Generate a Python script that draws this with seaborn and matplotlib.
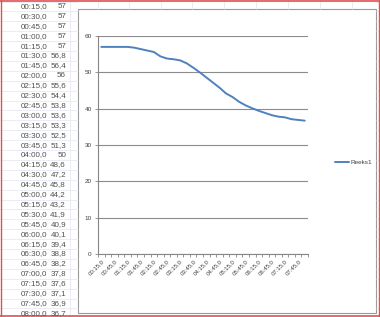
import numpy as np
import pandas as pd
import matplotlib
matplotlib.use("Agg")
import matplotlib.pyplot as plt
from matplotlib.patches import Rectangle
from matplotlib.lines import Line2D
import seaborn as sns

times = ["00:15,0", "00:30,0", "00:45,0", "01:00,0", "01:15,0", "01:30,0", "01:45,0", "02:00,0",
         "02:15,0", "02:30,0", "02:45,0", "03:00,0", "03:15,0", "03:30,0", "03:45,0", "04:00,0",
         "04:15,0", "04:30,0", "04:45,0", "05:00,0", "05:15,0", "05:30,0", "05:45,0", "06:00,0",
         "06:15,0", "06:30,0", "06:45,0", "07:00,0", "07:15,0", "07:30,0", "07:45,0", "08:00,0"]
values = [57, 57, 57, 57, 57, 56.8, 56.4, 56, 55.6, 54.4, 53.8, 53.6, 53.3, 52.5, 51.3, 50,
          48.6, 47.2, 45.8, 44.2, 43.2, 41.9, 40.9, 40.1, 39.4, 38.8, 38.2, 37.8, 37.6, 37.1, 36.9, 36.7]
yticks = [0, 10, 20, 30, 40, 50, 60]
series_name = "Reeks1"

sns.set_theme(style="white")
plt.rcParams['font.family'] = ['Liberation Sans', 'DejaVu Sans']

W, H = 380, 317
fig = plt.figure(figsize=(W / 100, H / 100), dpi=100)
fig.patch.set_facecolor("white")

def fx(px):
    return px / W

def fy(py):
    return 1 - py / H

grid_col = "#E2E6EE"
# spreadsheet grid lines
row_h = 9.9
for i in range(33):
    yy = 1.5 + i * row_h
    fig.add_artist(Line2D([fx(0), fx(78)], [fy(yy), fy(yy)], color=grid_col, lw=0.5))
    fig.add_artist(Line2D([fx(376), fx(380)], [fy(yy), fy(yy)], color=grid_col, lw=0.5))
for xx in [70]:
    fig.add_artist(Line2D([fx(xx), fx(xx)], [fy(0), fy(317)], color=grid_col, lw=0.5))
for xx in [98, 129, 161, 192, 224, 256, 288, 320, 352]:
    fig.add_artist(Line2D([fx(xx), fx(xx)], [fy(0), fy(9)], color=grid_col, lw=0.5))

# table text
for i, (t, v) in enumerate(zip(times, values)):
    yy = 6.5 + i * row_h
    fig.text(fx(47.5), fy(yy), t, ha="right", va="center", fontsize=5.8, color="#505050")
    vs = (f"{v:g}").replace(".", ",")
    fig.text(fx(66), fy(yy), vs, ha="right", va="center", fontsize=5.8, color="#505050")

# red borders of the screenshot
fig.add_artist(Line2D([0, 1], [fy(0.5), fy(0.5)], color="#E05050", lw=1.2))
fig.add_artist(Line2D([0, 1], [fy(316.3), fy(316.3)], color="#E05050", lw=1.2))
fig.add_artist(Line2D([fx(0.5), fx(0.5)], [0, 1], color="#E05050", lw=1.0))
fig.add_artist(Line2D([fx(378.5), fx(378.5)], [0, 1], color="#E05050", lw=1.0))

# chart box
fig.add_artist(Rectangle((fx(78), fy(313)), fx(376) - fx(78), fy(9) - fy(313),
                         facecolor="white", edgecolor="#9A9A9A", lw=0.8, zorder=1))

ax = fig.add_axes([fx(98), fy(254), fx(308) - fx(98), fy(36) - fy(254)])
ax.set_zorder(2)
ax.patch.set_alpha(0)

df = pd.DataFrame({"pos": np.arange(len(times)), "value": values, "serie": series_name})
sns.lineplot(data=df, x="pos", y="value", ax=ax, color="#4F81BD", lw=1.4, legend=False)

ax.set_xlim(-0.5, len(times) - 0.5)
ax.set_ylim(0, 60)
ax.set_yticks(yticks)
ax.set_yticklabels([str(v) for v in yticks], fontsize=4.6, color="#404040")
ax.yaxis.grid(True, color="#8C8C8C", lw=0.8)
ax.set_axisbelow(True)
ax.set_xticks(np.arange(len(times))[::2])
ax.set_xticklabels(times[::2], rotation=45, ha="right", rotation_mode="anchor",
                   fontsize=4.3, color="#404040")
ax.set_xticks(np.arange(len(times) + 1) - 0.5, minor=True)
ax.tick_params(axis="x", which="major", length=0, pad=3)
ax.tick_params(axis="x", which="minor", length=2.5, width=0.6, color="#868686", direction="out", bottom=True)
ax.tick_params(axis="y", length=2.5, width=0.6, color="#868686", direction="out", left=True, pad=2)
ax.set_xlabel("")
ax.set_ylabel("")
for s in ["top", "right"]:
    ax.spines[s].set_visible(False)
for s in ["left", "bottom"]:
    ax.spines[s].set_color("#868686")
    ax.spines[s].set_linewidth(0.8)

handle = Line2D([], [], color="#4F81BD", lw=1.4)
fig.legend([handle], [series_name], loc="center left", bbox_to_anchor=(fx(335), fy(162)),
           frameon=False, fontsize=4.6, handlelength=2.2, handletextpad=0.3,
           labelcolor="#404040", borderaxespad=0, borderpad=0)

fig.savefig("out.png", dpi=100, facecolor="white")
